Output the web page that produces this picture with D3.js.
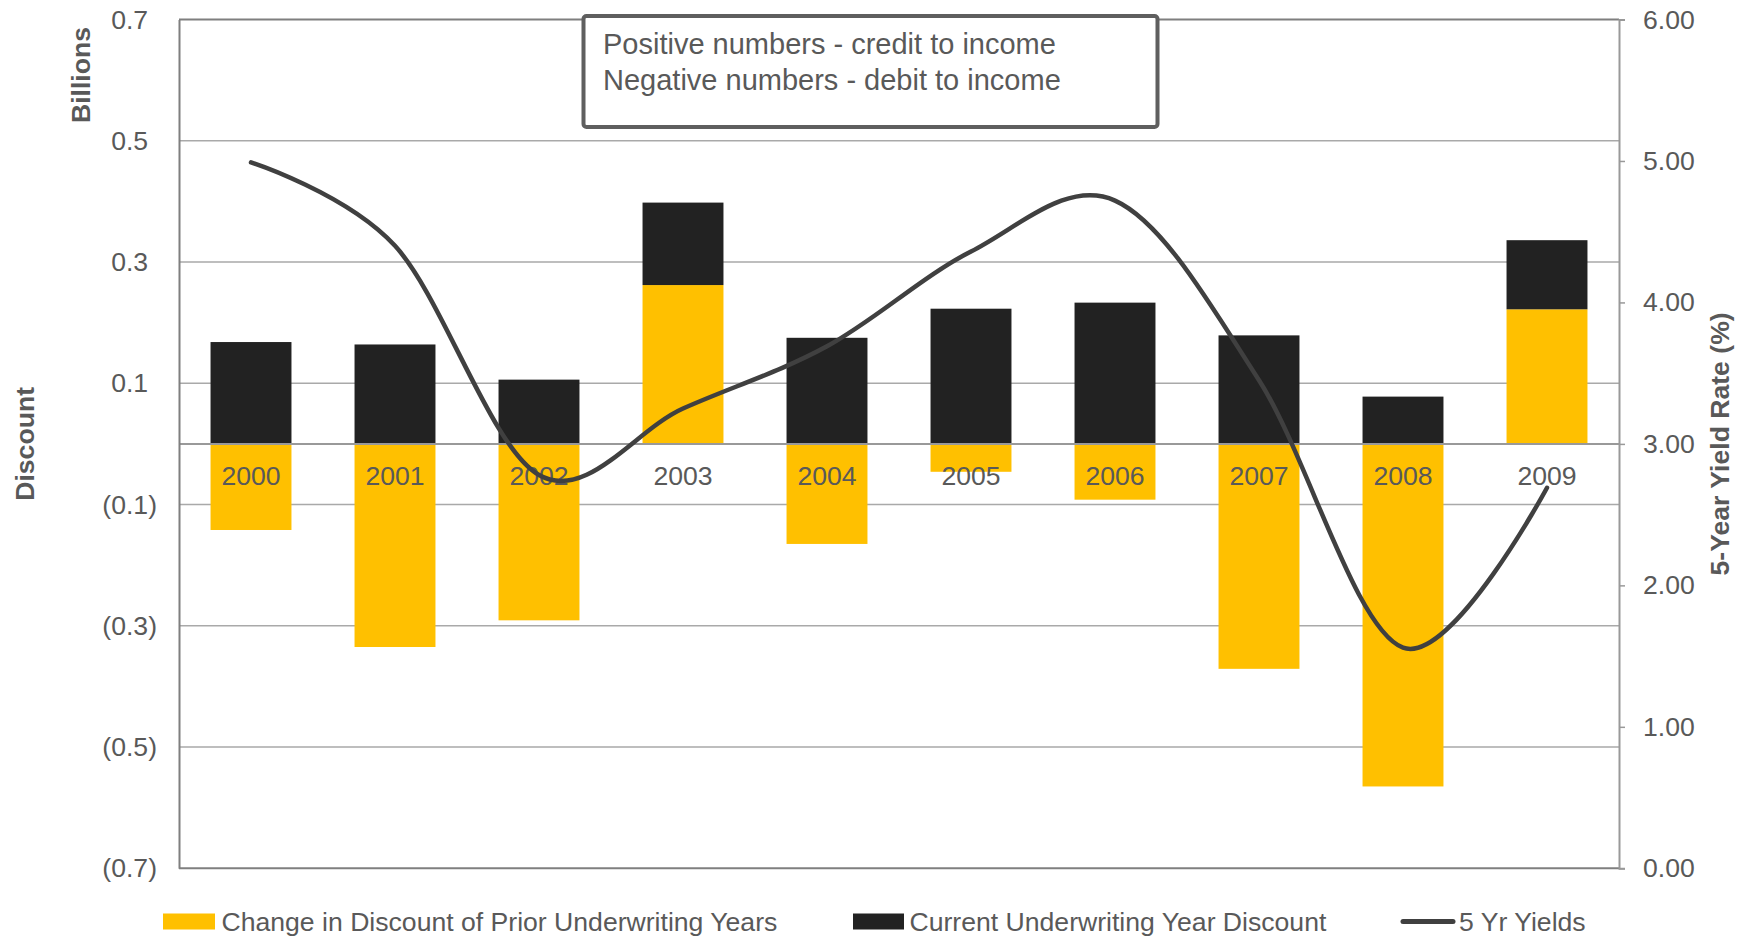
<!DOCTYPE html>
<html>
<head>
<meta charset="utf-8">
<script src="https://cdn.jsdelivr.net/npm/d3@7"></script>
<style>
  html, body { margin: 0; padding: 0; background: #ffffff; }
  svg { display: block; font-family: "Liberation Sans", Arial, sans-serif; }
</style>
</head>
<body>
<svg id="chart" width="1743" height="937"></svg>
<script>
// Underwriting years on the category axis
const years = ["2000", "2001", "2002", "2003", "2004", "2005", "2006", "2007", "2008", "2009"];

// Discount movements, in billions
const priorYearsChange = [-0.142, -0.335, -0.291, 0.262, -0.165, -0.046, -0.092, -0.371, -0.565, 0.222];
const currentYearDiscount = [0.168, 0.164, 0.106, 0.136, 0.175, 0.223, 0.233, 0.179, 0.078, 0.114];

// Five-year yield rate, percent
const fiveYearYields = [4.99, 4.40, 2.78, 3.25, 3.69, 4.36, 4.72, 3.45, 1.56, 2.69];

// Axis ticks
const discountTicks = [-0.7, -0.5, -0.3, -0.1, 0.1, 0.3, 0.5, 0.7];
const yieldTicks = [0, 1, 2, 3, 4, 5, 6];

const seriesNames = ["Change in Discount of Prior Underwriting Years", "Current Underwriting Year Discount", "5 Yr Yields"];

const COLORS = { prior: "#FFC000", current: "#222222", line: "#404040", text: "#595959" };
const plot = { left: 179, right: 1619, top: 19.5, bottom: 868.3 };
const FONT = 26.6;

const svg = d3.select("#chart");

const x = d3.scaleBand()
  .domain(years)
  .range([plot.left, plot.right])
  .paddingInner(0.438)
  .paddingOuter(0.219);

const y = d3.scaleLinear().domain([-0.7, 0.7]).range([plot.bottom, plot.top]);
const y2 = d3.scaleLinear().domain([0, 6]).range([plot.bottom, plot.top]);

// Horizontal gridlines behind the bars
svg.append("g")
  .selectAll("line")
  .data(discountTicks.filter(t => Math.abs(t) < 0.7))
  .join("line")
  .attr("x1", plot.left).attr("x2", plot.right)
  .attr("y1", d => y(d)).attr("y2", d => y(d))
  .attr("stroke", "#a9a9a9").attr("stroke-width", 1.6);

// Stacked columns (negatives stack downward from zero)
const table = years.map((yr, i) => ({ year: yr, prior: priorYearsChange[i], current: currentYearDiscount[i] }));
const stacked = d3.stack().keys(["prior", "current"]).offset(d3.stackOffsetDiverging)(table);

svg.append("g")
  .selectAll("g")
  .data(stacked)
  .join("g")
  .attr("fill", d => COLORS[d.key])
  .selectAll("rect")
  .data(d => d)
  .join("rect")
  .attr("x", d => x(d.data.year))
  .attr("width", x.bandwidth())
  .attr("y", d => y(Math.max(d[0], d[1])))
  .attr("height", d => Math.abs(y(d[0]) - y(d[1])));

// Plot frame: top edge and bottom axis
svg.append("line")
  .attr("x1", plot.left).attr("x2", plot.right)
  .attr("y1", y(0.7)).attr("y2", y(0.7))
  .attr("stroke", "#7f7f7f").attr("stroke-width", 2);

svg.append("line")
  .attr("x1", plot.left).attr("x2", plot.right)
  .attr("y1", y(-0.7)).attr("y2", y(-0.7))
  .attr("stroke", "#7f7f7f").attr("stroke-width", 2);

// Zero line (category axis) over the bars
svg.append("line")
  .attr("x1", plot.left).attr("x2", plot.right)
  .attr("y1", y(0)).attr("y2", y(0))
  .attr("stroke", "#999999").attr("stroke-width", 2);

// Left axis
const fmtDiscount = v => v < 0 ? "(" + d3.format(".1f")(-v) + ")" : d3.format(".1f")(v);
const leftAxis = svg.append("g")
  .attr("transform", `translate(${plot.left},0)`)
  .call(d3.axisLeft(y).tickValues(discountTicks).tickFormat(fmtDiscount).tickSize(0).tickPadding(22));
leftAxis.select(".domain").attr("stroke", "#7f7f7f").attr("stroke-width", 2);
leftAxis.selectAll("text")
  .attr("fill", COLORS.text)
  .style("font-size", FONT + "px")
  .attr("dx", d => d >= 0 ? "-0.333em" : 0);

// Right axis
const rightAxis = svg.append("g")
  .attr("transform", `translate(${plot.right},0)`)
  .call(d3.axisRight(y2).tickValues(yieldTicks).tickFormat(d3.format(".2f")).tickSize(6).tickPadding(18));
rightAxis.select(".domain").attr("stroke", "#999999").attr("stroke-width", 2);
rightAxis.selectAll(".tick line").attr("stroke", "#999999").attr("stroke-width", 1.5);
rightAxis.selectAll("text").attr("fill", COLORS.text).style("font-size", FONT + "px");

// Year labels next to the zero line
svg.append("g")
  .selectAll("text")
  .data(years)
  .join("text")
  .attr("x", d => x(d) + x.bandwidth() / 2)
  .attr("y", y(0) + 41)
  .attr("text-anchor", "middle")
  .attr("fill", COLORS.text)
  .style("font-size", FONT + "px")
  .text(d => d);

// Yield line, smoothed
const lineGen = d3.line()
  .x((d, i) => x(years[i]) + x.bandwidth() / 2)
  .y(d => y2(d))
  .curve(d3.curveCardinal.tension(0));

svg.append("path")
  .datum(fiveYearYields)
  .attr("d", lineGen)
  .attr("fill", "none")
  .attr("stroke", COLORS.line)
  .attr("stroke-width", 4.5)
  .attr("stroke-linecap", "round")
  .attr("stroke-linejoin", "round");

// Note box
const note = svg.append("g");
note.append("rect")
  .attr("x", 583.5).attr("y", 16)
  .attr("width", 574).attr("height", 111)
  .attr("rx", 3)
  .attr("fill", "#ffffff")
  .attr("stroke", "#5f5f5f").attr("stroke-width", 4);
note.append("text")
  .attr("x", 603).attr("y", 53.5)
  .attr("fill", COLORS.text).style("font-size", "29px")
  .text("Positive numbers - credit to income");
note.append("text")
  .attr("x", 603).attr("y", 89.5)
  .attr("fill", COLORS.text).style("font-size", "29px")
  .text("Negative numbers - debit to income");

// Axis titles
const titleStyle = sel => sel.attr("fill", COLORS.text).style("font-size", "26.6px").style("font-weight", "bold");

svg.append("text")
  .attr("transform", "translate(90,27) rotate(-90)")
  .attr("text-anchor", "end")
  .call(titleStyle)
  .text("Billions");

svg.append("text")
  .attr("transform", `translate(34.4,${y(0)}) rotate(-90)`)
  .attr("text-anchor", "middle")
  .call(titleStyle)
  .text("Discount");

svg.append("text")
  .attr("transform", `translate(1729,${(plot.top + plot.bottom) / 2}) rotate(-90)`)
  .attr("text-anchor", "middle")
  .call(titleStyle)
  .text("5-Year Yield Rate (%)");

// Legend
const legend = svg.append("g");
const legendY = 921.5;

legend.append("rect").attr("x", 163).attr("y", legendY - 8).attr("width", 52).attr("height", 16).attr("fill", COLORS.prior);
legend.append("text").attr("x", 221.5).attr("y", legendY + 9.2)
  .attr("fill", COLORS.text).style("font-size", FONT + "px").text(seriesNames[0]);

legend.append("rect").attr("x", 853).attr("y", legendY - 8).attr("width", 51).attr("height", 16).attr("fill", COLORS.current);
legend.append("text").attr("x", 909.5).attr("y", legendY + 9.2)
  .attr("fill", COLORS.text).style("font-size", FONT + "px").text(seriesNames[1]);

legend.append("line")
  .attr("x1", 1403).attr("x2", 1453)
  .attr("y1", legendY).attr("y2", legendY)
  .attr("stroke", COLORS.line).attr("stroke-width", 5).attr("stroke-linecap", "round");
legend.append("text").attr("x", 1459).attr("y", legendY + 9.2)
  .attr("fill", COLORS.text).style("font-size", FONT + "px").text(seriesNames[2]);
</script>
</body>
</html>
